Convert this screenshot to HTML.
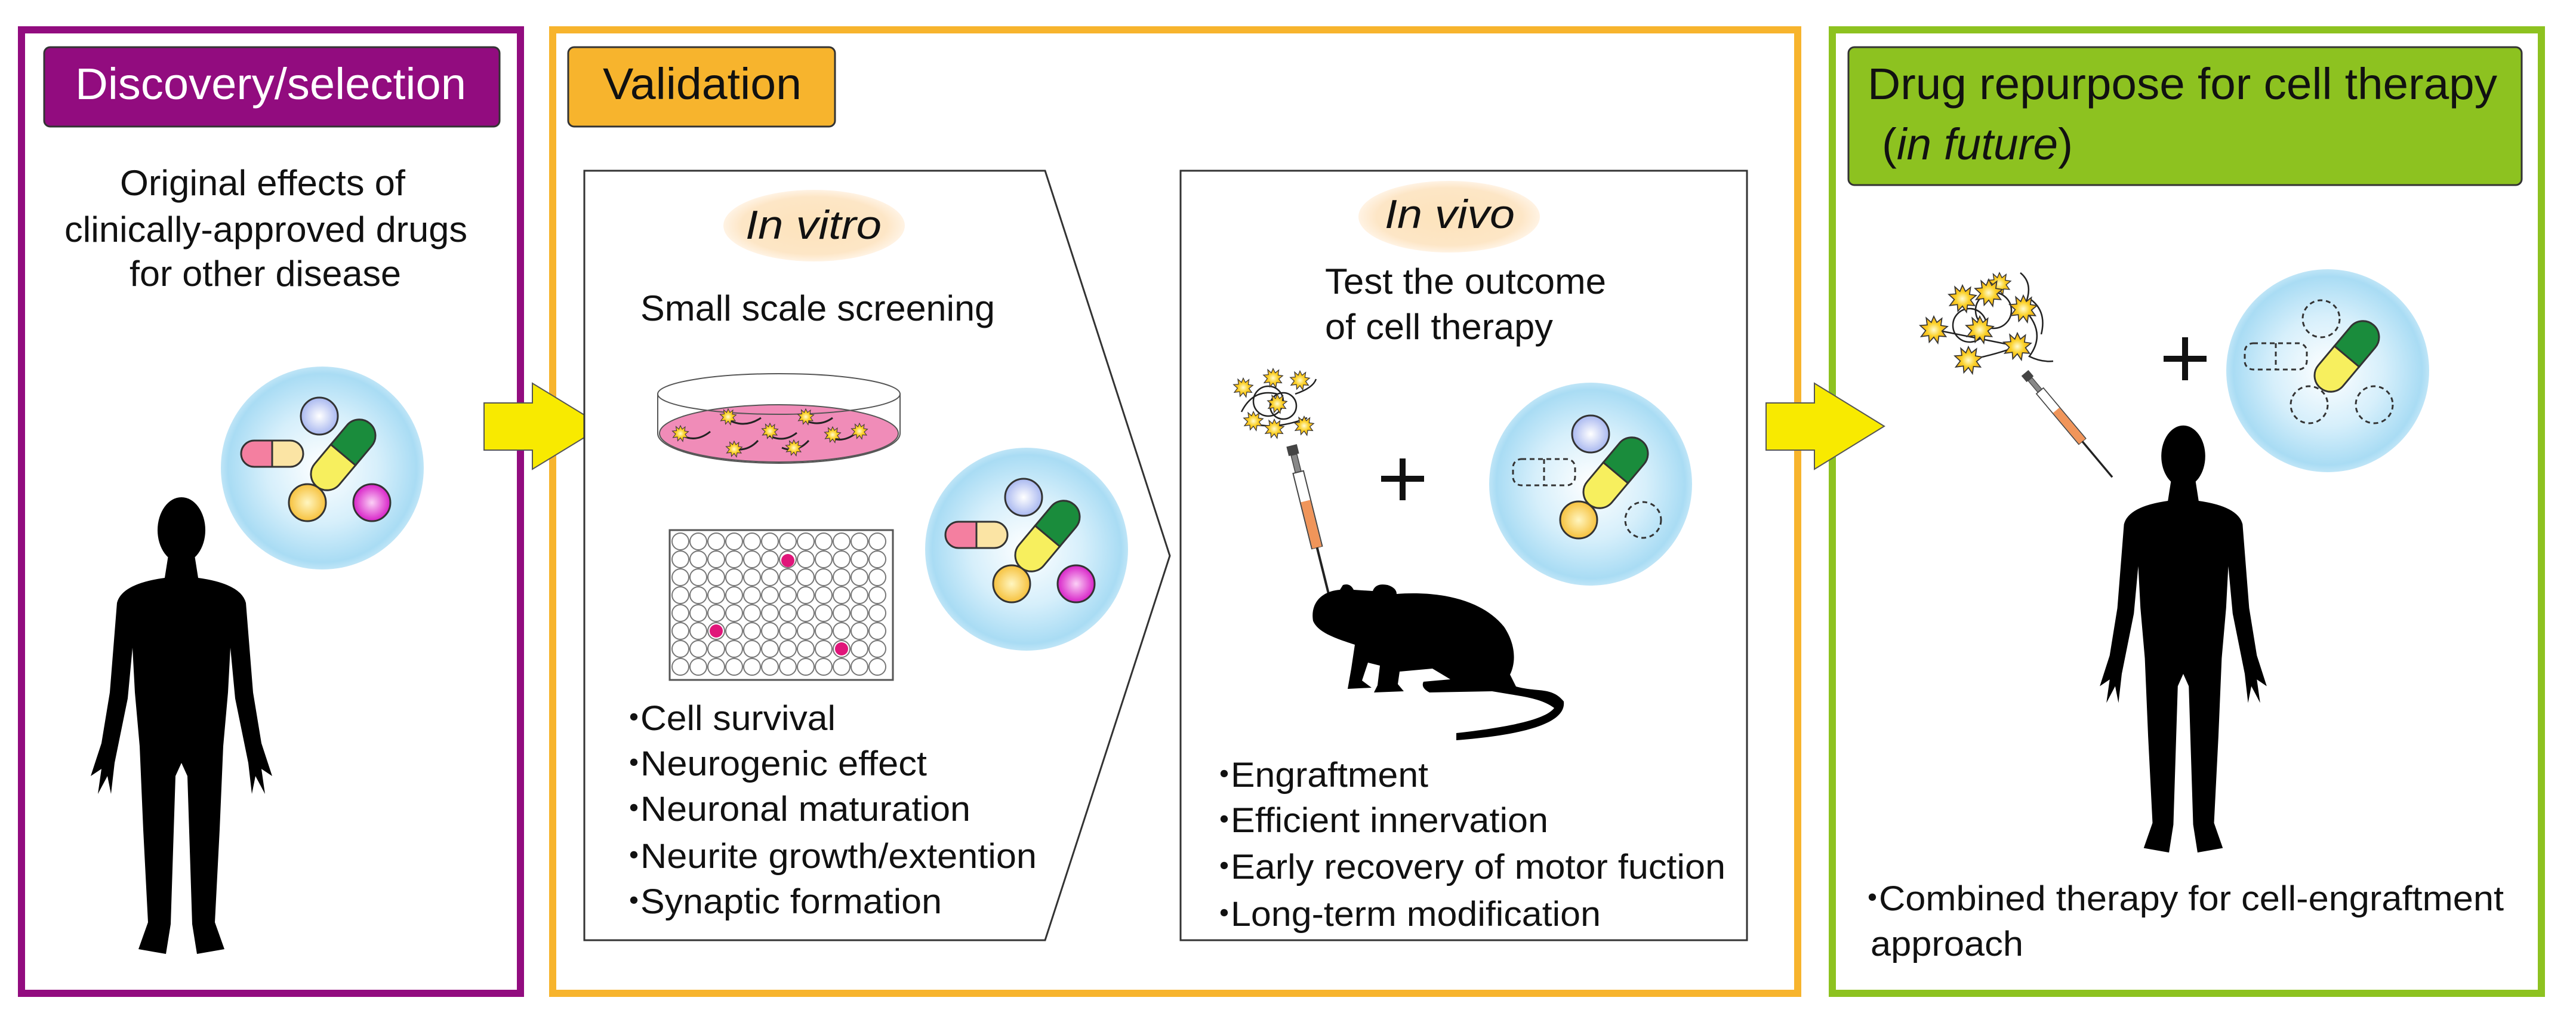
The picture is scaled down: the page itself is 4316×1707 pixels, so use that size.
<!DOCTYPE html>
<html><head><meta charset="utf-8"><style>
html,body{margin:0;padding:0;background:#fff;}
svg{display:block;}
text{font-family:"Liberation Sans",Arial,sans-serif;fill:#111;}
</style></head><body>
<svg width="4316" height="1707" viewBox="0 0 4316 1707" xmlns="http://www.w3.org/2000/svg">
<defs>
<radialGradient id="bub" cx="50%" cy="50%" r="50%">
<stop offset="0" stop-color="#ffffff"/><stop offset="0.55" stop-color="#d6effb"/><stop offset="0.93" stop-color="#a9dcf4"/><stop offset="1" stop-color="#bfe5f7"/>
</radialGradient>
<radialGradient id="ell" cx="50%" cy="50%" r="50%">
<stop offset="0" stop-color="#fde3bb"/><stop offset="0.8" stop-color="#fde6c6"/><stop offset="1" stop-color="#fff3e4"/>
</radialGradient>
<radialGradient id="gb" cx="50%" cy="50%" r="50%"><stop offset="0" stop-color="#fff"/><stop offset="1" stop-color="#a9b8f0"/></radialGradient>
<radialGradient id="gy" cx="50%" cy="50%" r="50%"><stop offset="0" stop-color="#fff6c0"/><stop offset="1" stop-color="#f6c13d"/></radialGradient>
<radialGradient id="gm" cx="50%" cy="50%" r="50%"><stop offset="0" stop-color="#fbd0f6"/><stop offset="1" stop-color="#d822c8"/></radialGradient>
<radialGradient id="gn" cx="50%" cy="50%" r="50%"><stop offset="0" stop-color="#fffbd0"/><stop offset="0.5" stop-color="#fbd128"/><stop offset="1" stop-color="#f0a818"/></radialGradient>
<g id="star">
<polygon points="0,-26 6,-14 16,-22 14,-8 27,-6 16,3 24,14 10,13 8,27 0,15 -9,25 -10,12 -25,14 -16,2 -27,-8 -13,-9 -15,-23 -5,-14" fill="url(#gn)" stroke="#333" stroke-width="2"/>
</g>
<g id="syr">
<rect x="-9" y="-8" width="18" height="16" fill="#444"/>
<rect x="-5" y="8" width="10" height="30" fill="#888" stroke="#444" stroke-width="1.5"/>
<rect x="-9" y="38" width="18" height="130" fill="#fff" stroke="#444" stroke-width="2"/>
<rect x="-8" y="88" width="16" height="80" fill="#f0955a"/>
<line x1="0" y1="168" x2="0" y2="260" stroke="#222" stroke-width="4"/>
</g>
<g id="human">
<ellipse cx="150" cy="58" rx="40" ry="55" fill="#000"/>
<path d="M128,100 L172,100 L178,138 Q250,148 258,180 L270,330 L284,415 L302,470 L284,458 L290,500 L274,470 L268,500 L262,448 L240,340 L232,255 L228,330 L220,420 L214,560 L206,715 L222,760 L176,768 L168,718 L160,470 L150,448 L140,470 L132,718 L124,768 L78,760 L94,715 L86,560 L80,420 L72,330 L68,255 L60,340 L38,448 L32,500 L26,470 L10,500 L16,458 L-2,470 L16,415 L30,330 L42,180 Q50,148 122,138 Z" fill="#000"/>
</g>
<g id="wrow" fill="none" stroke="#777" stroke-width="2"><circle cx="1140" cy="0" r="14"/><circle cx="1170" cy="0" r="14"/><circle cx="1200" cy="0" r="14"/><circle cx="1230" cy="0" r="14"/><circle cx="1260" cy="0" r="14"/><circle cx="1290" cy="0" r="14"/><circle cx="1320" cy="0" r="14"/><circle cx="1350" cy="0" r="14"/><circle cx="1380" cy="0" r="14"/><circle cx="1410" cy="0" r="14"/><circle cx="1440" cy="0" r="14"/><circle cx="1470" cy="0" r="14"/></g>
<g id="bubble1">
<circle r="170" fill="url(#bub)"/>
<circle cx="-5" cy="-87" r="31" fill="url(#gb)" stroke="#333" stroke-width="3"/>
<g transform="translate(-84,-24)"><path d="M0,-22 L-30,-22 A22,22 0 0 0 -30,22 L0,22 Z" fill="#f47fa0" stroke="#333" stroke-width="3"/><path d="M0,-22 L30,-22 A22,22 0 0 1 30,22 L0,22 Z" fill="#fbe4a4" stroke="#333" stroke-width="3"/></g>
<g transform="translate(35,-22) rotate(-50)"><path d="M0,-27 L-42,-27 A27,27 0 0 0 -42,27 L0,27 Z" fill="#f7ef5e" stroke="#333" stroke-width="3"/><path d="M0,-27 L42,-27 A27,27 0 0 1 42,27 L0,27 Z" fill="#1a8c3c" stroke="#333" stroke-width="3"/></g>
<circle cx="-25" cy="58" r="31" fill="url(#gy)" stroke="#333" stroke-width="3"/>
<circle cx="83" cy="58" r="31" fill="url(#gm)" stroke="#333" stroke-width="3"/>
</g>
</defs>

<!-- Section boxes -->
<rect x="36" y="50" width="836" height="1614" fill="none" stroke="#920c7f" stroke-width="12"/>
<rect x="926" y="50" width="2086" height="1614" fill="none" stroke="#f7b42d" stroke-width="12"/>
<rect x="3070" y="50" width="1188" height="1614" fill="none" stroke="#8dc220" stroke-width="12"/>

<!-- Headers -->
<rect x="74" y="79" width="763" height="133" rx="10" fill="#920c7f" stroke="#333" stroke-width="3"/>
<text x="126" y="166" font-size="74" style="fill:#fff" textLength="655" lengthAdjust="spacingAndGlyphs">Discovery/selection</text>
<rect x="952" y="79" width="447" height="133" rx="10" fill="#f7b42d" stroke="#333" stroke-width="3"/>
<text x="1010" y="166" font-size="74" textLength="333" lengthAdjust="spacingAndGlyphs">Validation</text>
<rect x="3097" y="79" width="1128" height="231" rx="10" fill="#8dc220" stroke="#333" stroke-width="3"/>
<text x="3129" y="166" font-size="74" textLength="1055" lengthAdjust="spacingAndGlyphs">Drug repurpose for cell therapy</text>
<text x="3153" y="267" font-size="74" textLength="320" lengthAdjust="spacingAndGlyphs">(<tspan font-style="italic">in future</tspan>)</text>

<!-- Discovery text -->
<text x="201" y="327" font-size="60" textLength="478" lengthAdjust="spacingAndGlyphs">Original effects of</text>
<text x="108" y="405" font-size="60" textLength="675" lengthAdjust="spacingAndGlyphs">clinically-approved drugs</text>
<text x="217" y="479" font-size="60" textLength="455" lengthAdjust="spacingAndGlyphs">for other disease</text>

<use href="#bubble1" transform="translate(540,784)"/>
<use href="#human" transform="translate(154,830)"/>

<!-- Arrows -->
<polygon points="811,675 892,675 892,642 1010,714 892,786 892,754 811,754" fill="#f8ea00" stroke="#555" stroke-width="2"/>
<polygon points="2959,675 3040,675 3040,642 3157,714 3040,786 3040,754 2959,754" fill="#f8ea00" stroke="#555" stroke-width="2"/>

<!-- In vitro pentagon -->
<polygon points="979,286 1751,286 1960,931 1751,1575 979,1575" fill="#fff" stroke="#333" stroke-width="3"/>
<ellipse cx="1364" cy="378" rx="152" ry="60" fill="url(#ell)"/>
<text x="1249" y="400" font-size="68" font-style="italic" textLength="228" lengthAdjust="spacingAndGlyphs">In vitro</text>
<text x="1073" y="537" font-size="60" textLength="594" lengthAdjust="spacingAndGlyphs">Small scale screening</text>
<!-- petri dish -->
<path d="M1102,660 L1102,726 A203,50 0 0 0 1508,726 L1508,660" fill="#fff" stroke="#555" stroke-width="2"/>
<ellipse cx="1305" cy="726" rx="200" ry="48" fill="#f08cb8" stroke="#555" stroke-width="2"/>
<ellipse cx="1305" cy="660" rx="203" ry="34" fill="none" stroke="#555" stroke-width="2"/>
<g fill="none" stroke="#222" stroke-width="3">
<path d="M1140,728 q25,15 50,-5"/><path d="M1215,700 q30,20 60,0"/><path d="M1280,725 q30,20 55,0"/><path d="M1340,700 q30,18 55,0"/><path d="M1385,730 q25,15 50,-5"/><path d="M1220,750 q30,10 50,-12"/><path d="M1310,750 q25,10 45,-12"/>
</g>
<use href="#star" transform="translate(1140,726) scale(0.5)"/><use href="#star" transform="translate(1220,698) scale(0.5)"/><use href="#star" transform="translate(1290,722) scale(0.5)"/><use href="#star" transform="translate(1350,698) scale(0.5)"/><use href="#star" transform="translate(1395,728) scale(0.5)"/><use href="#star" transform="translate(1230,752) scale(0.5)"/><use href="#star" transform="translate(1330,750) scale(0.5)"/><use href="#star" transform="translate(1440,722) scale(0.5)"/>
<!-- well plate -->
<rect x="1122" y="888" width="374" height="251" fill="#fff" stroke="#555" stroke-width="3"/>
<use href="#wrow" y="907"/><use href="#wrow" y="937"/><use href="#wrow" y="967"/><use href="#wrow" y="997"/><use href="#wrow" y="1027"/><use href="#wrow" y="1057"/><use href="#wrow" y="1087"/><use href="#wrow" y="1117"/>
<circle cx="1320" cy="939" r="11" fill="#e0157a"/><circle cx="1200" cy="1057" r="11" fill="#e0157a"/><circle cx="1410" cy="1087" r="11" fill="#e0157a"/>
<use href="#bubble1" transform="translate(1720,920)"/>
<g font-size="58">
<text x="1033" y="1223">・</text><text x="1073" y="1223" textLength="327" lengthAdjust="spacingAndGlyphs">Cell survival</text>
<text x="1033" y="1299">・</text><text x="1073" y="1299" textLength="480" lengthAdjust="spacingAndGlyphs">Neurogenic effect</text>
<text x="1033" y="1375">・</text><text x="1073" y="1375" textLength="553" lengthAdjust="spacingAndGlyphs">Neuronal maturation</text>
<text x="1033" y="1454">・</text><text x="1073" y="1454" textLength="664" lengthAdjust="spacingAndGlyphs">Neurite growth/extention</text>
<text x="1033" y="1530">・</text><text x="1073" y="1530" textLength="505" lengthAdjust="spacingAndGlyphs">Synaptic formation</text>
</g>

<!-- In vivo box -->
<rect x="1978" y="286" width="949" height="1289" fill="#fff" stroke="#333" stroke-width="3"/>
<ellipse cx="2428" cy="363" rx="152" ry="60" fill="url(#ell)"/>
<text x="2320" y="382" font-size="68" font-style="italic" textLength="218" lengthAdjust="spacingAndGlyphs">In vivo</text>
<text x="2220" y="492" font-size="60" textLength="471" lengthAdjust="spacingAndGlyphs">Test the outcome</text>
<text x="2220" y="568" font-size="60" textLength="382" lengthAdjust="spacingAndGlyphs">of cell therapy</text>
<g fill="none" stroke="#222" stroke-width="2.5">
<circle cx="2125" cy="672" r="25"/><circle cx="2150" cy="680" r="22"/><path d="M2080,690 q20,-40 60,-30"/><path d="M2170,660 q30,-10 35,-25"/><path d="M2100,710 q40,10 90,-10"/>
</g>
<use href="#star" transform="translate(2083,649) scale(0.6)"/><use href="#star" transform="translate(2133,633) scale(0.6)"/><use href="#star" transform="translate(2178,637) scale(0.6)"/><use href="#star" transform="translate(2140,676) scale(0.6)"/><use href="#star" transform="translate(2100,705) scale(0.6)"/><use href="#star" transform="translate(2135,718) scale(0.6)"/><use href="#star" transform="translate(2185,713) scale(0.6)"/>
<use href="#syr" transform="translate(2166,754) rotate(-14)"/>
<rect x="2314" y="797" width="72" height="10" fill="#111"/><rect x="2345" y="768" width="10" height="70" fill="#111"/>
<g transform="translate(2665,811)">
<circle r="170" fill="url(#bub)"/>
<circle cx="0" cy="-84" r="31" fill="url(#gb)" stroke="#333" stroke-width="3"/>
<g transform="translate(-78,-20)"><rect x="-52" y="-22" width="104" height="44" rx="14" fill="none" stroke="#333" stroke-width="3" stroke-dasharray="8,6"/><line x1="0" y1="-22" x2="0" y2="22" stroke="#333" stroke-width="3" stroke-dasharray="8,6"/></g>
<g transform="translate(42,-19) rotate(-50)"><path d="M0,-27 L-42,-27 A27,27 0 0 0 -42,27 L0,27 Z" fill="#f7ef5e" stroke="#333" stroke-width="3"/><path d="M0,-27 L42,-27 A27,27 0 0 1 42,27 L0,27 Z" fill="#1a8c3c" stroke="#333" stroke-width="3"/></g>
<circle cx="-20" cy="60" r="31" fill="url(#gy)" stroke="#333" stroke-width="3"/>
<circle cx="88" cy="60" r="30" fill="none" stroke="#333" stroke-width="3" stroke-dasharray="8,6"/>
</g>
<path d="M2200,1040 C2195,1010 2215,990 2245,988 L2250,980 Q2262,976 2268,988 L2300,990 Q2305,976 2325,980 Q2340,985 2340,995 C2400,990 2480,1000 2520,1050 C2540,1080 2540,1110 2530,1130 L2540,1150 C2575,1160 2600,1150 2620,1175 C2625,1215 2540,1232 2440,1240 L2440,1228 C2530,1218 2590,1205 2604,1186 C2585,1172 2560,1168 2530,1163 L2500,1158 L2395,1160 Q2380,1152 2385,1142 L2430,1138 L2400,1120 L2345,1125 L2342,1146 L2352,1158 L2302,1160 L2308,1148 L2312,1115 L2292,1110 L2282,1140 L2298,1152 L2258,1154 L2264,1120 L2270,1080 C2240,1070 2208,1060 2200,1040 Z" fill="#000"/>
<g font-size="58">
<text x="2022" y="1318">・</text><text x="2062" y="1318" textLength="331" lengthAdjust="spacingAndGlyphs">Engraftment</text>
<text x="2022" y="1394">・</text><text x="2062" y="1394" textLength="532" lengthAdjust="spacingAndGlyphs">Efficient innervation</text>
<text x="2022" y="1472">・</text><text x="2062" y="1472" textLength="829" lengthAdjust="spacingAndGlyphs">Early recovery of motor fuction</text>
<text x="2022" y="1551">・</text><text x="2062" y="1551" textLength="620" lengthAdjust="spacingAndGlyphs">Long-term modification</text>
</g>

<!-- Green section -->
<g fill="none" stroke="#222" stroke-width="2.5">
<circle cx="3340" cy="520" r="30"/><circle cx="3300" cy="545" r="28"/><path d="M3240,552 L3380,580"/><path d="M3298,603 q50,-10 82,-23"/><path d="M3390,517 q40,40 10,80 q20,10 40,8"/><path d="M3390,517 q20,-40 -5,-60"/><path d="M3400,500 q30,20 20,60"/>
</g>
<use href="#star" transform="translate(3240,552) scale(0.85)"/><use href="#star" transform="translate(3288,500) scale(0.85)"/><use href="#star" transform="translate(3350,475) scale(0.7)"/><use href="#star" transform="translate(3332,490) scale(0.85)"/><use href="#star" transform="translate(3390,517) scale(0.85)"/><use href="#star" transform="translate(3317,552) scale(0.85)"/><use href="#star" transform="translate(3380,580) scale(0.85)"/><use href="#star" transform="translate(3298,603) scale(0.85)"/>
<use href="#syr" transform="translate(3397,630) rotate(-40) scale(0.85)"/>
<rect x="3625" y="596" width="72" height="10" fill="#111"/><rect x="3656" y="565" width="10" height="72" fill="#111"/>
<g transform="translate(3900,621)">
<circle r="170" fill="url(#bub)"/>
<circle cx="-11" cy="-87" r="31" fill="none" stroke="#333" stroke-width="3" stroke-dasharray="8,6"/>
<g transform="translate(-87,-24)"><rect x="-52" y="-22" width="104" height="44" rx="14" fill="none" stroke="#333" stroke-width="3" stroke-dasharray="8,6"/><line x1="0" y1="-22" x2="0" y2="22" stroke="#333" stroke-width="3" stroke-dasharray="8,6"/></g>
<g transform="translate(32,-24) rotate(-50)"><path d="M0,-27 L-42,-27 A27,27 0 0 0 -42,27 L0,27 Z" fill="#f7ef5e" stroke="#333" stroke-width="3"/><path d="M0,-27 L42,-27 A27,27 0 0 1 42,27 L0,27 Z" fill="#1a8c3c" stroke="#333" stroke-width="3"/></g>
<circle cx="-31" cy="57" r="31" fill="none" stroke="#333" stroke-width="3" stroke-dasharray="8,6"/>
<circle cx="78" cy="57" r="31" fill="none" stroke="#333" stroke-width="3" stroke-dasharray="8,6"/>
</g>
<use href="#human" transform="translate(3520,710) scale(0.92,0.935)"/>
<g font-size="58">
<text x="3108" y="1525">・</text><text x="3148" y="1525" textLength="1047" lengthAdjust="spacingAndGlyphs">Combined therapy for cell-engraftment</text>
<text x="3134" y="1601" textLength="256" lengthAdjust="spacingAndGlyphs">approach</text>
</g>
</svg>
</body></html>
